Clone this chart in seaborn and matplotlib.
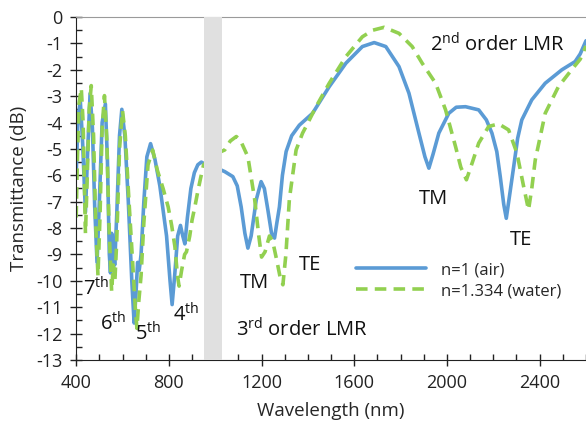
import numpy as np
import pandas as pd
import matplotlib
matplotlib.use("Agg")
import matplotlib.pyplot as plt
import seaborn as sns
from matplotlib.ticker import MultipleLocator

# spectrum in air (blue, solid)
wl_air = [400, 408, 418, 428, 440, 450, 460, 470, 480, 490, 500, 512, 526, 535, 543, 548,
          553, 560, 566, 575, 587, 597, 610, 625, 640, 650, 658, 665, 672, 680, 692, 705,
          721, 740, 761, 790, 805, 814, 825, 838, 850, 860, 869, 880, 895, 910, 925, 940,
          960, 1000, 1041, 1076, 1095, 1112, 1128, 1141, 1155, 1177, 1198, 1212, 1227, 1243,
          1256, 1266, 1277, 1290, 1306, 1330, 1363, 1420, 1492, 1564, 1635, 1686, 1736, 1793,
          1836, 1879, 1905, 1922, 1940, 1965, 2008, 2040, 2080, 2137, 2170, 2194, 2215, 2230,
          2245, 2256, 2268, 2288, 2305, 2323, 2366, 2424, 2496, 2553, 2575, 2600]
t_air = [-6.0, -3.8, -3.2, -4.8, -7.4, -5.0, -2.9, -4.2, -7.2, -9.3, -7.0, -4.0, -3.3, -5.5, -9.0, -9.7,
         -8.2, -8.6, -9.4, -7.5, -4.5, -3.5, -4.5, -7.0, -10.0, -11.6, -10.5, -9.3, -9.6, -9.0, -7.0, -5.3,
         -4.8, -5.4, -6.4, -8.3, -10.0, -10.9, -9.8, -8.3, -7.9, -8.3, -8.6, -7.6, -6.5, -5.9, -5.6, -5.5,
         -5.6, -5.7, -5.86, -6.05, -6.4, -7.2, -8.2, -8.76, -8.3, -6.93, -6.24, -6.5, -7.3, -8.2,
         -8.38, -7.8, -7.2, -6.0, -5.1, -4.5, -4.1, -3.65, -2.64, -1.75, -1.12, -0.97, -1.12, -1.88,
         -2.89, -4.4, -5.3, -5.73, -5.2, -4.4, -3.65, -3.42, -3.4, -3.52, -3.9, -4.4, -5.1, -6.05,
         -7.1, -7.63, -6.9, -5.67, -4.6, -3.9, -3.14, -2.51, -2.0, -1.69, -1.4, -0.9]

# spectrum in water (green, dashed)
wl_water = [400, 405, 412, 422, 430, 440, 448, 456, 465, 475, 485, 494, 503, 512, 522, 532,
            542, 553, 560, 567, 575, 587, 600, 612, 628, 645, 655, 662, 670, 680, 692, 710,
            730, 750, 775, 797, 812, 826, 837, 844, 855, 868, 876, 890, 900, 912, 925, 937,
            950, 1000, 1041, 1065, 1091, 1110, 1141, 1170, 1188, 1200, 1215, 1234, 1248, 1265,
            1281, 1292, 1305, 1320, 1334, 1349, 1377, 1392, 1435, 1492, 1564, 1635, 1680, 1729,
            1793, 1850, 1893, 1951, 1994, 2037, 2060, 2084, 2110, 2137, 2180, 2223, 2266, 2302,
            2331, 2352, 2366, 2381, 2424, 2481, 2538, 2575, 2600]
t_water = [-7.6, -5.5, -3.3, -2.7, -4.0, -8.2, -6.0, -3.5, -2.6, -4.5, -8.0, -9.8, -7.5, -4.2, -2.98, -4.6,
           -8.0, -10.4, -9.4, -10.0, -8.5, -5.0, -3.55, -4.5, -7.0, -9.5, -11.0, -11.8, -10.8, -9.8, -7.8, -5.6,
           -5.04, -5.8, -6.5, -7.2, -7.9, -8.7, -9.8, -10.2, -9.6, -9.0, -8.9, -8.3, -7.7, -7.2, -6.6, -6.1,
           -5.6, -5.2, -5.04, -4.7, -4.53, -4.7, -5.3, -6.9, -8.3, -9.1, -8.9, -8.3, -8.5, -9.2,
           -9.9, -10.15, -9.0, -6.9, -6.0, -5.04, -4.4, -4.15, -3.4, -2.51, -1.5, -0.75, -0.5, -0.39,
           -0.62, -1.12, -1.75, -2.51, -3.52, -4.91, -5.7, -6.17, -5.5, -4.78, -4.15, -4.05, -4.28, -5.16,
           -6.43, -7.31, -6.5, -5.42, -3.65, -2.64, -2.0, -1.6, -1.1]

blue = "#5b9bd5"
green = "#92d050"

sns.set_style("ticks")
plt.rcParams['font.family'] = ['Open Sans', 'DejaVu Sans']
plt.rcParams['mathtext.fontset'] = 'custom'
plt.rcParams['mathtext.rm'] = 'Open Sans'
plt.rcParams['axes.unicode_minus'] = False

fig = plt.figure(figsize=(5.86, 4.25), dpi=100)
ax = fig.add_axes([0.13, 0.153, 0.87, 0.807])

air = pd.DataFrame({"wl": wl_air, "T": t_air})
water = pd.DataFrame({"wl": wl_water, "T": t_water})

sns.lineplot(data=air, x="wl", y="T", ax=ax, color=blue, lw=2.6, label="n=1 (air)")
sns.lineplot(data=water, x="wl", y="T", ax=ax, color=green, lw=2.6,
             linestyle=(0, (3.2, 2)), label="n=1.334 (water)")

# gray band where no data was taken
ax.axvspan(950, 1030, color="#e0e0e0", zorder=3, lw=0)

ax.set_xlim(400, 2600)
ax.set_ylim(-13, 0)
ax.xaxis.set_major_locator(MultipleLocator(400))
ax.xaxis.set_minor_locator(MultipleLocator(100))
ax.yaxis.set_major_locator(MultipleLocator(1))
ax.yaxis.set_minor_locator(MultipleLocator(0.5))
ax.set_yticks(range(-13, 1))
ax.set_yticklabels([str(v) for v in range(-13, 1)])
ax.tick_params(which="major", direction="inout", length=8, width=1, labelsize=13,
               colors="#222222", pad=6)
ax.tick_params(which="minor", direction="in", length=4, width=1, colors="#222222")

for s in ["left", "bottom"]:
    ax.spines[s].set_color("#222222")
ax.spines["top"].set_color("#9a9a9a")
ax.spines["right"].set_visible(False)

ax.set_xlabel("Wavelength (nm)", fontsize=13.5, labelpad=7)
ax.set_ylabel("Transmittance (dB)", fontsize=13.5, labelpad=6)

ann = dict(fontsize=14.5, ha="center", va="center", color="#111111", zorder=5)
ax.text(486, -10.3, r"7$^{\mathrm{th}}$", **ann)
ax.text(559, -11.65, r"6$^{\mathrm{th}}$", **ann)
ax.text(712, -12.0, r"5$^{\mathrm{th}}$", **ann)
ax.text(873, -11.3, r"4$^{\mathrm{th}}$", **ann)
ax.text(1170, -10.1, "TM", **ann)
ax.text(1410, -9.4, "TE", **ann)
ax.text(1375, -11.85, r"3$^{\mathrm{rd}}$ order LMR", **ann)
ax.text(1944, -6.9, "TM", **ann)
ax.text(2318, -8.45, "TE", **ann)
ax.text(2219, -1.05, r"2$^{\mathrm{nd}}$ order LMR", **ann)

ax.legend(loc="upper left", bbox_to_anchor=(0.535, 0.305), frameon=False, fontsize=12,
          handlelength=4.2, labelspacing=0.3, handletextpad=0.9, borderaxespad=0)

fig.savefig("out.png", dpi=100)
